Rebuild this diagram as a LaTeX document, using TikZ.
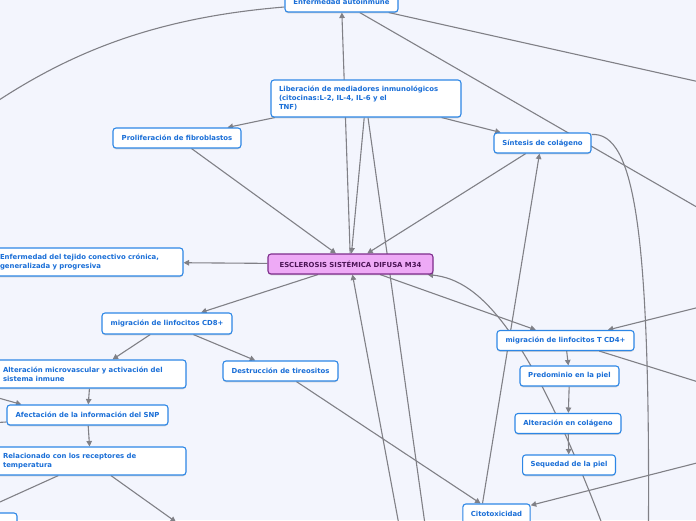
\documentclass[tikz,border=0pt]{standalone}
\usepackage{fontspec}
\setmainfont{DejaVu Sans}
\usepackage{tikz}
\usetikzlibrary{arrows.meta, shadows}
\definecolor{paperbg}{RGB}{243,245,253}
\definecolor{boxblue}{RGB}{45,135,230}
\definecolor{textblue}{RGB}{25,110,215}
\definecolor{linkgray}{RGB}{128,128,134}
\definecolor{mainfill}{RGB}{238,170,246}
\definecolor{mainline}{RGB}{125,45,140}
\definecolor{maintext}{RGB}{75,20,85}
\pgfdeclarelayer{paper}
\pgfdeclarelayer{links}
\pgfsetlayers{paper,links,main}
\tikzset{
	topicbox/.style={draw=boxblue, fill=white, line width=1.1pt, rounded corners=3pt,
		font=\fontsize{6.9}{9}\selectfont\bfseries\color{textblue},
		inner xsep=8pt, inner ysep=3pt, minimum height=20pt,
		drop shadow={shadow xshift=0pt, shadow yshift=-1.3pt, fill=black!45, opacity=0.35}}
}
\tikzset{
	centralbox/.style={topicbox, draw=mainline, fill=mainfill,
		font=\fontsize{6.9}{9}\selectfont\bfseries\color{maintext}}
}
\tikzset{
	linkline/.style={draw=linkgray, line width=1.1pt, -{Triangle[width=5.5pt,length=5.5pt]}},
	plainline/.style={draw=linkgray, line width=1.1pt}
}

\begin{document}
\begin{tikzpicture}[x=1pt,y=-1pt]
  \useasboundingbox (0,0) rectangle (696,520);
  \begin{pgfonlayer}{paper}
    \fill[paperbg] (0,0) rectangle (696,520);
  \end{pgfonlayer}

  \node[topicbox, minimum width=113pt] (autoinm) at (341.5,2) {Enfermedad autoinmune};
  \node[topicbox, text width=174pt, align=left, minimum height=37pt] (liber) at (366,98.5)
    {Liberación de mediadores inmunológicos\\(citocinas:L-2, IL-4, IL-6 y el\\TNF)};
  \node[topicbox, minimum width=128pt] (prolif) at (177,138) {Proliferación de fibroblastos};
  \node[topicbox, minimum width=97pt] (sintesis) at (542.5,143) {Síntesis de colágeno};
  \node[topicbox, text width=175pt, align=left, minimum height=28pt] (tejido) at (87.5,262)
    {Enfermedad del tejido conectivo crónica,\\generalizada y progresiva};
  \node[centralbox, minimum width=165pt] (escl) at (350.5,264) {ESCLEROSIS SISTÉMICA DIFUSA M34};
  \node[topicbox, minimum width=130pt, minimum height=21pt] (cdocho) at (167,323.5) {migración de linfocitos CD8+};
  \node[topicbox, text width=175pt, align=left, minimum height=28pt] (microv) at (90.5,374)
    {Alteración microvascular y activación del\\sistema inmune};
  \node[topicbox, minimum width=115pt] (destruc) at (280.5,371) {Destrucción de tireositos};
  \node[topicbox, minimum width=161pt] (afect) at (87.5,415) {Afectación de la información del SNP};
  \node[topicbox, text width=175pt, align=left, minimum height=28pt] (relac) at (90.5,461)
    {Relacionado con los receptores de\\temperatura};
  \node[topicbox, minimum width=127pt] (lowleft) at (-46.5,523) {};
  \node[topicbox, minimum width=137pt] (cdcuatro) at (565.5,340.5) {migración de linfocitos T CD4+};
  \node[topicbox, minimum width=99pt] (predom) at (569.5,376) {Predominio en la piel};
  \node[topicbox, minimum width=106pt] (altcol) at (568,423.5) {Alteración en colágeno};
  \node[topicbox, minimum width=92pt] (sequed) at (569,465) {Sequedad de la piel};
  \node[topicbox, minimum width=67pt] (citotox) at (496.5,514) {Citotoxicidad};

  \coordinate (outNE) at (740,91);
  \coordinate (outEa) at (740,232);
  \coordinate (outEb) at (740,452);
  \coordinate (outEc) at (740,297);
  \coordinate (outEd) at (740,395);
  \coordinate (outWa) at (-30,120);
  \coordinate (outWb) at (-30,390);
  \coordinate (outWc) at (-30,424);
  \coordinate (outSa) at (405.5,560);
  \coordinate (outSb) at (430,560);
  \coordinate (outSc) at (610,545);
  \coordinate (outSd) at (648,580);
  \coordinate (outSe) at (176,522);

  \begin{pgfonlayer}{links}
    \draw[linkline] (escl) -- (autoinm);
    \draw[plainline] (autoinm) -- (outNE);
    \draw[plainline] (autoinm) -- (outEa);
    \draw[plainline] ([yshift=-5pt]autoinm.west) .. controls (150,18) and (60,55) .. (outWa);
    \draw[linkline] (liber) -- (prolif);
    \draw[linkline] (liber) -- (sintesis);
    \draw[linkline] (liber) -- (escl);
    \draw[plainline] ([xshift=2pt]liber.south) -- (outSb);
    \draw[linkline] (prolif) -- (escl);
    \draw[linkline] (sintesis) -- (escl);
    \draw[plainline] ([yshift=-2pt]sintesis.north east) .. controls (635,132) and (652,230) .. (outSd);
    \draw[linkline] ([xshift=-14pt]citotox.north) -- ([xshift=-3pt]sintesis.south);
    \draw[linkline] (outSa) -- (escl);
    \draw[linkline] (outSc) .. controls (530,330) and (480,280) .. ([xshift=-6pt]escl.south east);
    \draw[linkline] (escl) -- (tejido);
    \draw[linkline] (escl) -- (cdocho);
    \draw[linkline] (escl) -- (cdcuatro);
    \draw[linkline] (cdocho) -- (microv);
    \draw[linkline] (cdocho) -- (destruc);
    \draw[linkline] (destruc) -- (citotox);
    \draw[linkline] (outEb) -- (citotox);
    \draw[linkline] (outEc) -- (cdcuatro);
    \draw[plainline] (cdcuatro) -- (outEd);
    \foreach \a/\b in {microv/afect, afect/relac, cdcuatro/predom, predom/altcol, altcol/sequed}
      \draw[linkline] (\a) -- (\b);
    \draw[linkline] (outWb) -- ([xshift=15pt]afect.north west);
    \draw[plainline] ([yshift=-7pt]afect.west) -- (outWc);
    \draw[linkline] (relac) -- (outSe);
    \draw[linkline] (relac) -- (lowleft);
  \end{pgfonlayer}
\end{tikzpicture}
\end{document}
